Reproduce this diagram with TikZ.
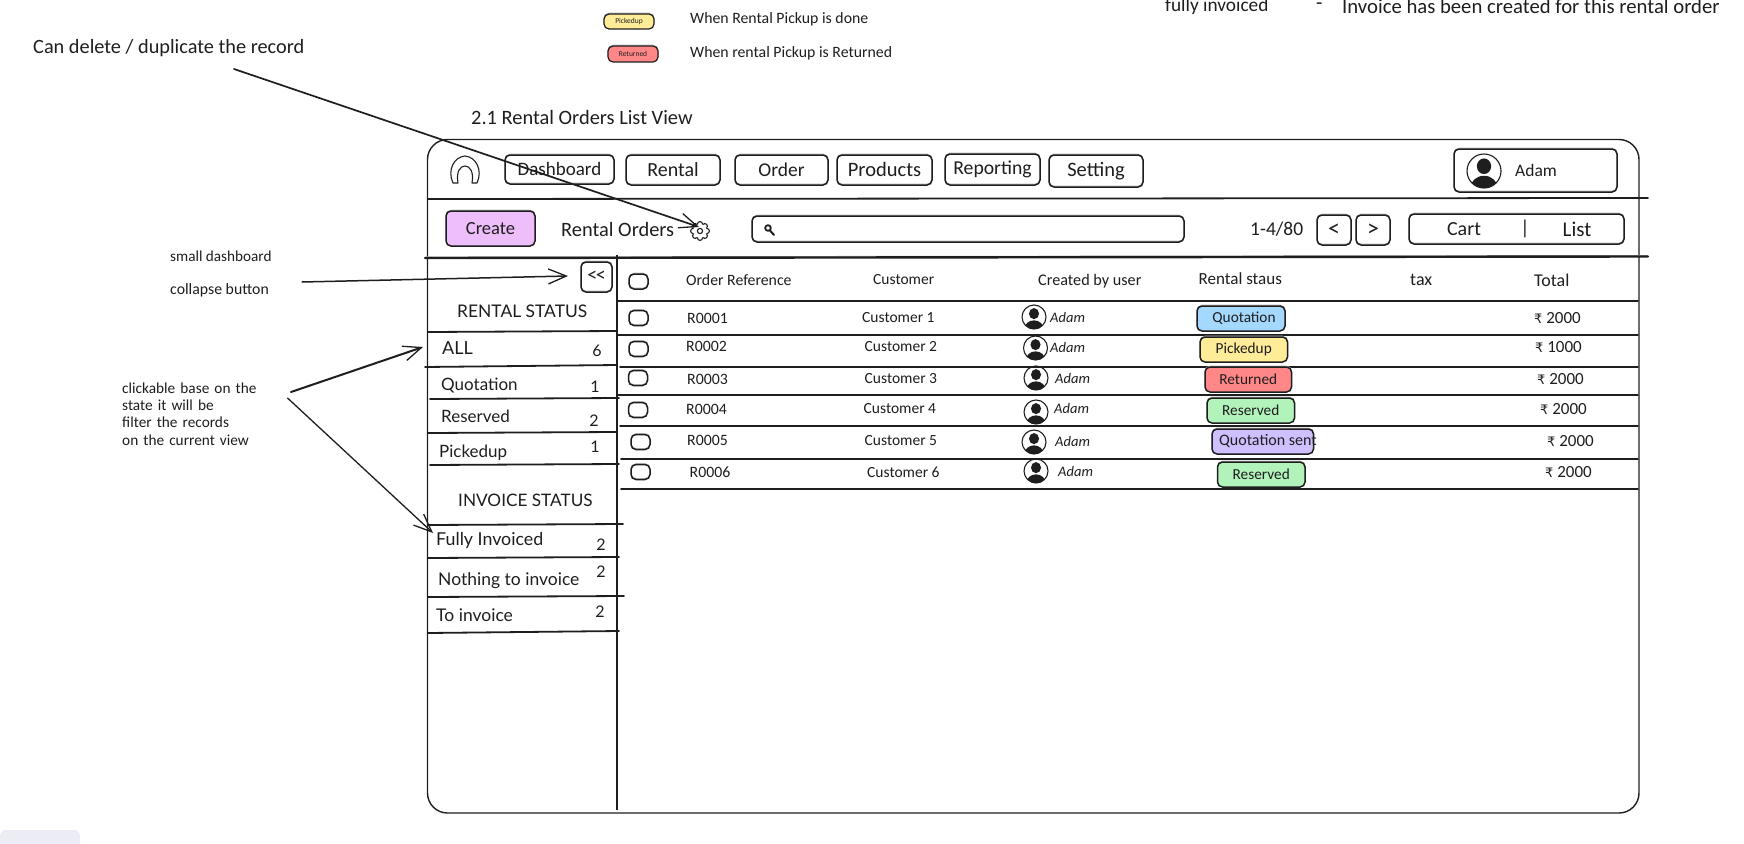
\documentclass[tikz,border=0pt]{standalone}
\usepackage{fontspec}
\setmainfont{Carlito}
\newfontfamily\sidefont{Lato}
\newfontfamily\rupeefont{DejaVu Sans}
\usetikzlibrary{arrows.meta}
\definecolor{ink}{HTML}{1E1E1E}
\definecolor{ghost}{HTML}{B8B8B8}
\definecolor{cpurple}{HTML}{EEBEFA}
\definecolor{cblue}{HTML}{A5D8FF}
\definecolor{cyellow}{HTML}{FFEC99}
\definecolor{cred}{HTML}{FF8787}
\definecolor{cgreen}{HTML}{B2F2BB}
\definecolor{cviolet}{HTML}{D0BFFF}
\definecolor{cpanel}{HTML}{ECECF4}
\tikzset{
  hand/.style={text=ink,inner sep=0pt,anchor=west,font=\fontsize{#1}{#1}\selectfont},
  hand/.default=16,
  side/.style={text=ink,inner sep=0pt,anchor=west,font=\sidefont\fontsize{#1}{#1}\selectfont},
  side/.default=17,
  ctr/.style={text=ink,inner sep=0pt,anchor=center,font=\fontsize{#1}{#1}\selectfont},
  ctr/.default=17,
  rule/.style={draw=ink,line width=1.8pt,line cap=round},
  softrule/.style={rule,preaction={draw=ghost,line width=1pt,transform canvas={yshift=1pt}}},
  skbox/.style={draw=ink,line width=1.5pt,rounded corners=5pt,inner sep=0pt,text=ink,
     preaction={draw=ghost,line width=1pt,transform canvas={yshift=0.8pt}}},
  navfont/.style={font=\fontsize{#1}{#1}\selectfont},
  arr/.style={draw=ink,line width=#1,line cap=round,-{Straight Barb[length=18pt,width=15pt,line width=1.3pt]}},
  arr/.default=1.4pt,
}
\newcommand\bx[7]{%
  \pgfmathsetmacro\cx{(#2+#4)/2}\pgfmathsetmacro\cy{(#3+#5)/2}%
  \pgfmathsetmacro\bw{#4-#2}\pgfmathsetmacro\bh{#5-#3}%
  \node[skbox,minimum width=\bw pt,minimum height=\bh pt,#6] (#1) at (\cx,\cy) {#7};}
\newcommand\useravatar[3]{% x y r
  \begin{scope}[shift={(#1,#2)}]
    \path[clip] (0,0) circle[radius=#3];
    \fill[ink] (0,{-0.28*#3}) ellipse[x radius={0.42*#3},y radius={0.46*#3}];
    \fill[ink] (0,{1.0*#3}) ellipse[x radius={0.8*#3},y radius={0.72*#3}];
  \end{scope}
  \draw[ink,line width=1.1pt] (#1,#2) circle[radius=#3];}
\newcommand\up[1]{\raisebox{1.6pt}{#1}}
\begin{document}
\begin{tikzpicture}[x=1pt,y=-1pt]
\useasboundingbox (0,0) rectangle (1744,843);
\clip (0,0) rectangle (1744,843);
\fill[cpanel,rounded corners=6pt] (0,830) rectangle (80,860) ;

% legend and notes
\bx{lp}{604}{14}{654}{29}{fill=cyellow,line width=1.2pt}{\fontsize{7.5}{7.5}\selectfont Pickedup}
\node[hand=15.8] (lpt) at (690,19) {When Rental Pickup is done};
\bx{lr}{608}{46}{658}{62}{fill=cred,line width=1.2pt}{\fontsize{7.5}{7.5}\selectfont Returned}
\node[hand=15.8] (lrt) at (690,53) {When rental Pickup is Returned};
\node[hand=19.3] (fi) at (1165,6) {fully invoiced};
\node[hand=20.7] (fid) at (1316,6) {-};
\node[hand=20.7] (fit) at (1342,6) {Invoice has been created for this rental order};
\node[hand=20.3] (del) at (33,48.5) {Can delete / duplicate the record};
\node[hand=20.4] (ttl) at (471,117) {2.1 Rental Orders List View};
\node[hand=15.2] (sd) at (170,256) {small dashboard};
\node[hand=15.8] (cb) at (170,290) {collapse button};
\node[hand=15.3,align=left,text width=170pt] (cl) at (122,414) {clickable base on the\\[2pt]state it will be\\[2pt]filter the records\\[2pt]on the current view};

% frame
\draw[ink,line width=1.4pt,rounded corners=20pt] (427.5,139.5) rectangle (1639,813);
\draw[rule] (428,199) -- (1648,198);
\draw[softrule,line width=2.4pt] (425,258) -- (1648,256.5);
\draw[ink,line width=1.4pt] (617,255) -- (617,810);

% nav
\draw[ink,line width=1.1pt,line join=round] (453,183) .. controls (447,170) and (454,157) .. (465,156) .. controls (476,157) and (483,170) .. (477,183) -- (472,183) .. controls (474,172) and (470,166) .. (465,166) .. controls (460,166) and (456,172) .. (458,183) -- cycle;
\bx{nd}{505}{155}{614}{184}{navfont=19}{\up{Dashboard}}
\bx{nr}{626}{155}{720}{185}{navfont=20}{Rental}
\bx{no}{735}{155}{828}{185}{navfont=19.5}{Order}
\bx{np}{837}{155}{932}{185}{navfont=20.5}{\up{Products}}
\bx{nt}{945}{154}{1040}{185}{navfont=19.7}{Reporting}
\bx{ns}{1049}{155}{1143}{187}{navfont=20.5}{Setting}
\bx{ua}{1454}{149}{1617}{192}{}{}
\useravatar{1484}{171}{17}
\node[hand=17.5] (uat) at (1515,170) {Adam};

% toolbar
\bx{cr}{446}{211}{535}{246}{fill=cpurple,navfont=18.5}{Create}
\node[hand=20.4] (ro) at (561,229.5) {Rental Orders};
\coordinate (gearc) at (700,231);
\foreach \a in {0,45,...,315}{\draw[ink,line width=1.1pt,fill=white] (gearc) ++(\a:6.8) circle[radius=2.6];}
\fill[white] (gearc) circle[radius=6.8];
\draw[ink,line width=1.1pt] (gearc) circle[radius=2.6];
\bx{sb}{752}{216}{1184}{242}{}{}
\draw[ink,line width=1.8pt] (768,228) circle[radius=2.8];
\draw[ink,line width=2pt,line cap=round] (770,230.5) -- (774,235);
\node[hand=19.5] (pg) at (1250,229) {1-4/80};
\bx{pl}{1317}{215}{1351}{245}{navfont=24}{<}
\bx{pr}{1356}{215}{1390}{245}{navfont=24}{>}
\bx{vw}{1409}{214}{1624}{244}{}{}
\node[ctr=20] (vc) at (1464,229) {Cart};
\node[ctr=20] (vb) at (1525,229) {|};
\node[ctr=21] (vl) at (1577,229) {List};

% sidebar
\bx{col}{581}{262}{612}{292}{navfont=20}{\raisebox{1.5pt}{<\kern-1.5pt{}<}}
\node[side=17.4] (srs) at (457,311) {RENTAL STATUS};
\node[side=17.2] (sis) at (458,500) {INVOICE STATUS};
\foreach \xa/\ya/\xb/\yb in {428/332/617/331,425/367/617/365,430/399/619/398,428/433/616/432,430/465/619/464,428/525/623/524,428/558/619/557,428/597/624/596,428/633/619/631}
  {\draw[rule] (\xa,\ya) -- (\xb,\yb);}
\foreach \n/\x/\y/\t/\cx/\cy/\c/\fs in {a/442/348/ALL/597/351/6/18,q/441/385.5/Quotation/595/387/1/17,v/441/416/Reserved/594/421/2/17,p/439/452.5/Pickedup/595/447/1/17,f/436/540/Fully Invoiced/601/545/2/17.8,g/438/580.5/Nothing to invoice/601/572/2/17.5,h/436/615/To invoice/600/612/2/17.5}
  {\node[side=\fs] (s\n) at (\x,\y) {\t};
   \node[ctr=16,font=\sidefont\fontsize{16}{16}\selectfont] (c\n) at (\cx,\cy) {\c};}

% table header
\bx{hc}{629}{274}{648}{289}{}{}
\node[hand=15.8] (h1) at (686,280) {Order Reference};
\node[hand=15.5] (h2) at (873,279.5) {Customer};
\node[hand=16.2] (h3) at (1038,281) {Created by user};
\node[hand=17] (h4) at (1198.5,279) {Rental staus};
\node[hand=18] (h5) at (1410,280) {tax};
\node[hand=18] (h6) at (1534,280) {Total};
\foreach \xa/\y in {618/301,618/335,620/367,618/395,620/426,621/459,621/489}
  {\draw[softrule] (\xa,\y) -- (1638,\y);}

% rows
\foreach \i/\cbx/\cby/\rx/\ry/\rt/\ux/\uy/\ax/\ay/\mx/\my/\mt/\ccx/\ccy in {
 1/629/318/687/318/R0001/1034/317/1050/318/1534/318/2000/862/318,
 2/629/349/686/346/R0002/1035.5/348/1050/348/1535/347/1000/864.5/347,
 3/628.5/378/687/379/R0003/1036/378/1055/379/1537/379/2000/864.5/379,
 4/628.5/410/686/409/R0004/1036/412/1054/409/1540/409/2000/863.5/409,
 5/631/442/687/440/R0005/1034/442/1055/442/1547/441/2000/864.5/441,
 6/631/472/689.5/472/R0006/1036/471/1058/472/1545/472/2000/867/472}{
  \pgfmathsetmacro\xe{\cbx+19}\pgfmathsetmacro\yt{\cby-7.5}\pgfmathsetmacro\ye{\cby+7.5}
  \bx{rc\i}{\cbx}{\yt}{\xe}{\ye}{}{}
  \node[hand=15.8] (ref\i) at (\rx,\ry) {\rt};
  \node[hand=15.5] (cus\i) at (\ccx,\ccy) {Customer \i};
  \useravatar{\ux}{\uy}{12}
  \node[hand=14.5,font=\itshape\fontsize{14.5}{14.5}\selectfont] (usr\i) at (\ax,\ay) {Adam};
  \node[hand=17] (amt\i) at (\mx,\my) {{\rupeefont\fontsize{13}{13}\selectfont ₹}\ \mt};
}

% badges
\bx{b1}{1197}{306}{1285}{331}{fill=cblue,navfont=15.3}{\up{\hspace{6pt}Quotation}}
\bx{b2}{1200}{337}{1287.5}{362}{fill=cyellow,navfont=15.3}{Pickedup}
\bx{b3}{1205}{367}{1291.5}{392}{fill=cred,navfont=15.3}{\up{Returned}}
\bx{b4}{1207}{398}{1294.5}{423}{fill=cgreen,navfont=15.3}{\up{Reserved}}
\bx{b5}{1212}{429}{1313.5}{454}{fill=cviolet}{}
\node[hand=16] (b5t) at (1219,441) {Quotation sent};
\bx{b6}{1217.5}{462}{1305}{487}{fill=cgreen,navfont=15.3}{\up{Reserved}}

% annotation arrows
\coordinate (a1s) at (234,69);
\coordinate (a1t) at (699,227);
\coordinate (a2s) at (302,282);
\coordinate (a2t) at (568,276);
\coordinate (a3s) at (291,392);
\coordinate (a3t) at (423,347);
\coordinate (a4s) at (287.5,398);
\coordinate (a4t) at (433,533);
\draw[arr=1.7pt] (a1s) -- (a1t);
\draw[arr=1.5pt] (a2s) -- (a2t);
\draw[arr=2pt] (a3s) -- (a3t);
\draw[arr=1.3pt] (a4s) -- (a4t);
\end{tikzpicture}
\end{document}
